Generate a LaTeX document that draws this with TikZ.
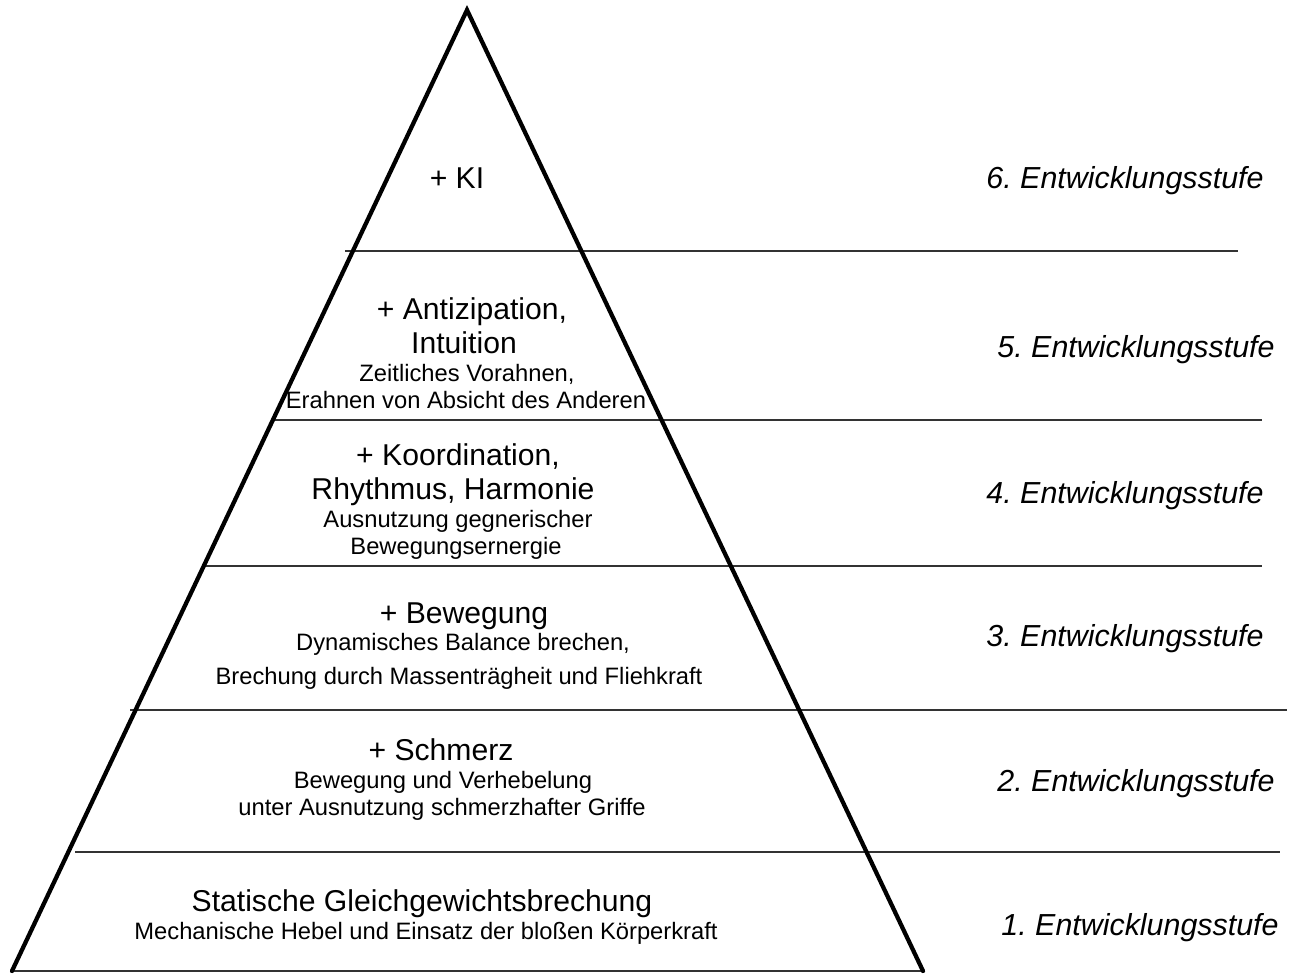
\documentclass[tikz,border=0pt]{standalone}
\usepackage{fontspec}
\setmainfont{Liberation Sans}
\usetikzlibrary{positioning}

\newcommand{\bigtext}{\fontsize{22.6}{27}\selectfont}
\newcommand{\smalltext}{\fontsize{17.8}{21}\selectfont}
\newcommand{\stufetext}{\fontsize{22.8}{27}\selectfont\itshape}

\begin{document}
\begin{tikzpicture}[
        x=0.75pt,y=-0.75pt,
        title/.style={font=\bigtext,inner sep=0pt,anchor=base},
        detail/.style={font=\smalltext,inner sep=0pt,anchor=base},
        stufe/.style={font=\stufetext,inner sep=0pt,anchor=base},
        divider/.style={line width=1.1pt,draw=black!80},
        outline/.style={line width=3.2pt,line join=miter,line cap=round}]
      \useasboundingbox (0,0) rectangle (1292,974);
      % pyramid corners
      \coordinate (apex) at (467,10);
      \coordinate (base left) at (12,971);
      \coordinate (base right) at (923,971);
      % level dividers
      \foreach \lvl/\y/\xa/\xb in {6/251/345/1238, 5/420/272/1262, 4/566/204/1262,
                                   3/710/130/1287, 2/852/75/1280, 1/971/12/923} {
        \coordinate (div\lvl-l) at (\xa,\y);
        \coordinate (div\lvl-r) at (\xb,\y);
        \draw[divider] (div\lvl-l) -- (div\lvl-r);
      }
      \draw[outline] (base left) -- (apex) -- (base right);
      % level 6
      \node[title] (ki) at (457,188) {+ KI};
      % level 5
      \node[title] (antizipation) at (472,319) {+ Antizipation,};
      \node[title] (intuition) at (464,353) {Intuition};
      \node[detail] (vorahnen) at (467,381) {Zeitliches Vorahnen,};
      \node[detail] (absicht) at (466,408) {Erahnen von Absicht des Anderen};
      % level 4
      \node[title] (koordination) at (458,465) {+ Koordination,};
      \node[title] (rhythmus) at (453,499) {Rhythmus, Harmonie};
      \node[detail] (ausnutzung) at (458,527) {Ausnutzung gegnerischer};
      \node[detail] (energie) at (456,554) {Bewegungsernergie};
      % level 3
      \node[title] (bewegung) at (464,623) {+ Bewegung};
      \node[detail] (balance) at (463,650) {Dynamisches Balance brechen,};
      \node[detail] (brechung) at (459,684) {Brechung durch Massenträgheit und Fliehkraft};
      % level 2
      \node[title] (schmerz) at (441,760) {+ Schmerz};
      \node[detail] (verhebelung) at (443,788) {Bewegung und Verhebelung};
      \node[detail] (griffe) at (442,815) {unter Ausnutzung schmerzhafter Griffe};
      % level 1
      \node[title] (statisch) at (422,911) {Statische Gleichgewichtsbrechung};
      \node[detail] (hebel) at (426,939) {Mechanische Hebel und Einsatz der bloßen Körperkraft};
      % stage labels
      \node[stufe] (stufe6) at (1125,188) {6.\ Entwicklungsstufe};
      \node[stufe] (stufe5) at (1136,357) {5.\ Entwicklungsstufe};
      \node[stufe] (stufe4) at (1125,503) {4.\ Entwicklungsstufe};
      \node[stufe] (stufe3) at (1125,646) {3.\ Entwicklungsstufe};
      \node[stufe] (stufe2) at (1136,791) {2.\ Entwicklungsstufe};
      \node[stufe] (stufe1) at (1140,935) {1.\ Entwicklungsstufe};
\end{tikzpicture}
\end{document}
